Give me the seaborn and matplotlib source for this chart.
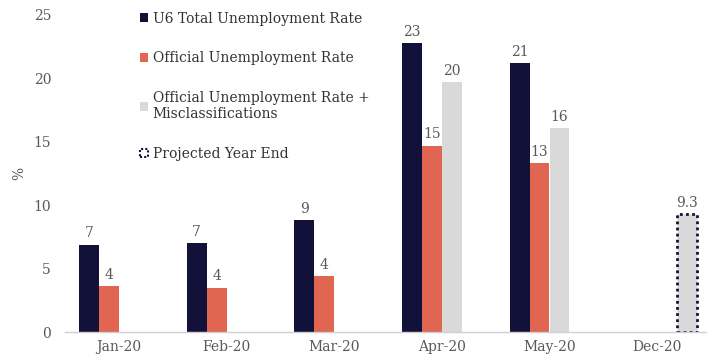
import numpy as np
import pandas as pd
import matplotlib
matplotlib.use("Agg")
import matplotlib.pyplot as plt
from matplotlib.patches import Patch
import seaborn as sns

months = ["Jan-20", "Feb-20", "Mar-20", "Apr-20", "May-20", "Dec-20"]
series = [
    "U6 Total Unemployment Rate",
    "Official Unemployment Rate",
    "Official Unemployment Rate +\nMisclassifications",
    "Projected Year End",
]
u6_rate = [6.9, 7.0, 8.8, 22.8, 21.2, np.nan]
official_rate = [3.6, 3.5, 4.4, 14.7, 13.3, np.nan]
misclassified_rate = [np.nan, np.nan, np.nan, 19.7, 16.1, np.nan]
projected_rate = [np.nan, np.nan, np.nan, np.nan, np.nan, 9.3]

navy = "#12113a"
coral = "#e06652"
light_gray = "#d9d9d9"
text_gray = "#595959"

rows = []
for name, vals in zip(series, [u6_rate, official_rate, misclassified_rate, projected_rate]):
    for m, v in zip(months, vals):
        rows.append({"month": m, "series": name, "value": v})
df = pd.DataFrame(rows)

sns.set_theme(style="white")
plt.rcParams["font.family"] = ["DejaVu Serif"]

fig = plt.figure(figsize=(7.07, 3.64), dpi=100)
ax = fig.add_axes([65 / 707, 32 / 364, 646 / 707, 317 / 364])

palette = {series[0]: navy, series[1]: coral, series[2]: light_gray, series[3]: light_gray}
sns.barplot(data=df, x="month", y="value", hue="series", order=months,
            hue_order=series, palette=palette, width=0.74, dodge=True,
            saturation=1, legend=False, ax=ax, errorbar=None, linewidth=0)

# dotted outline on the projection bar
for patch in ax.containers[3]:
    patch.set_edgecolor(navy)
    patch.set_linestyle((0, (1, 1.2)))
    patch.set_linewidth(2.0)

fmts = ["{:.0f}", "{:.0f}", "{:.0f}", "{:.1f}"]
for cont, fmt in zip(ax.containers, fmts):
    labels = ["" if np.isnan(b.get_height()) else fmt.format(b.get_height()) for b in cont]
    ax.bar_label(cont, labels=labels, padding=3, fontsize=10, color=text_gray)

ax.set_ylim(0, 25)
ax.set_xlim(-0.5, 5.5)
ax.set_yticks([0, 5, 10, 15, 20, 25])
ax.tick_params(axis="y", length=0, labelsize=10, labelcolor=text_gray, pad=10)
ax.set_xticks(range(6))
ax.set_xticklabels(months)
ax.tick_params(axis="x", length=0, labelsize=10, labelcolor=text_gray, pad=6)
ax.set_xticks(np.arange(-0.5, 6, 1), minor=True)
ax.tick_params(axis="x", which="minor", length=4, color="#d0d0d0", width=1)
ax.set_xlabel("")
ax.set_ylabel("%", fontsize=10, color=text_gray, labelpad=5)

for side in ["top", "right", "left"]:
    ax.spines[side].set_visible(False)
ax.spines["bottom"].set_color("#d0d0d0")
ax.spines["bottom"].set_linewidth(1)

handles = [
    Patch(facecolor=navy, edgecolor="none"),
    Patch(facecolor=coral, edgecolor="none"),
    Patch(facecolor=light_gray, edgecolor="none"),
    Patch(facecolor="white", edgecolor=navy, linestyle=(0, (1, 1)), linewidth=1.5),
]
ax.legend(handles, series, loc="upper left", bbox_to_anchor=(0.097, 1.05),
          frameon=False, fontsize=10, labelcolor="#333333",
          handlelength=0.6, handleheight=0.6, handletextpad=0.3,
          labelspacing=1.85)

fig.savefig("out.png", dpi=100)
